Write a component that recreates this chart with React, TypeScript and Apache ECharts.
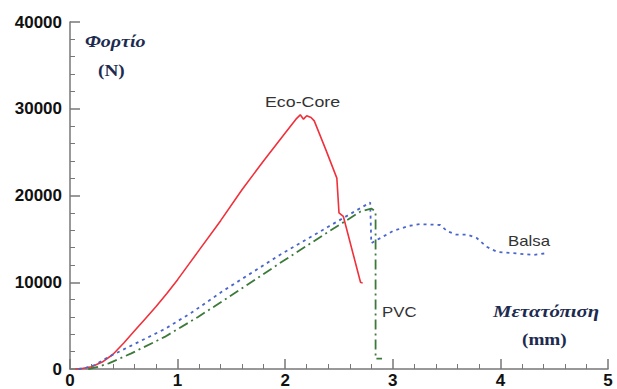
import React, { useEffect, useRef } from "react";
import * as echarts from "echarts";

const xTicks = [0, 1, 2, 3, 4, 5];
const yTicks = [0, 10000, 20000, 30000, 40000];

const ecoCore: [number, number][] = [
  [0.05, 0], [0.1, 30], [0.2, 250], [0.3, 800], [0.4, 1700], [0.5, 3000],
  [0.6, 4400], [0.7, 5800], [0.8, 7200], [0.9, 8700], [1.0, 10300],
  [1.1, 12000], [1.2, 13700], [1.4, 17100], [1.6, 20700], [1.8, 24000],
  [2.0, 27200], [2.1, 28800], [2.14, 29300], [2.17, 28800], [2.2, 29200],
  [2.24, 29000], [2.27, 28600], [2.38, 25200], [2.48, 22000], [2.5, 18000],
  [2.54, 17600], [2.7, 10000], [2.72, 9900],
];

const balsa: [number, number][] = [
  [0.08, 0], [0.15, 150], [0.23, 460], [0.36, 1400], [0.57, 2700], [0.88, 4600],
  [1.13, 6500], [1.41, 8900], [1.95, 13150], [2.4, 16400], [2.79, 19200],
  [2.8, 14500], [3.0, 15900], [3.15, 16500], [3.25, 16700], [3.44, 16600],
  [3.51, 15850], [3.59, 15500], [3.69, 15500], [3.78, 15100], [3.87, 14100],
  [3.97, 13500], [4.12, 13350], [4.31, 13150], [4.43, 13350],
];

const pvc: [number, number][] = [
  [0.17, 0], [0.26, 250], [0.36, 650], [0.57, 1800], [0.88, 3700], [1.19, 6000],
  [1.44, 8000], [1.95, 12200], [2.4, 15800], [2.7, 18150], [2.8, 18500],
  [2.84, 18150], [2.84, 1200], [2.9, 1200],
];

const navy = "#1c2b4f";
const sans = "Liberation Sans, Arial, sans-serif";
const serif = "Liberation Serif, Times New Roman, serif";

function label(text: string, x: number, y: number, font: string, fill: string, scaleX: number) {
  return {
    type: "text",
    x,
    y,
    scaleX,
    style: { text, font, fill, align: "left", verticalAlign: "middle" },
  };
}

export default function App() {
  const ref = useRef<HTMLDivElement>(null);
  useEffect(() => {
    if (!ref.current) return;
    const chart = echarts.init(ref.current, undefined, { renderer: "svg" });
    const axisCommon = {
      axisLine: { show: true, lineStyle: { color: "#777", width: 1.5 } },
      axisTick: { show: true, inside: true, length: 10, lineStyle: { color: "#777", width: 1.5 } },
      minorTick: { show: true, splitNumber: 5, length: 5, lineStyle: { color: "#777", width: 1 } },
      splitLine: { show: false },
      axisLabel: {
        color: "#111",
        fontFamily: sans,
        fontWeight: "bold" as const,
        fontSize: 17,
        formatter: (v: number) => String(v),
      },
    };
    chart.setOption({
      animation: false,
      backgroundColor: "#fff",
      grid: { left: 70, right: 9, top: 22, bottom: 20, containLabel: false },
      xAxis: {
        type: "value",
        min: xTicks[0],
        max: xTicks[xTicks.length - 1],
        interval: 1,
        ...axisCommon,
        axisLabel: { ...axisCommon.axisLabel, margin: 3 },
      },
      yAxis: {
        type: "value",
        min: yTicks[0],
        max: yTicks[yTicks.length - 1],
        interval: 10000,
        ...axisCommon,
        axisLabel: { ...axisCommon.axisLabel, margin: 8 },
      },
      series: [
        {
          name: "Eco-Core",
          type: "line",
          data: ecoCore,
          showSymbol: false,
          lineStyle: { color: "#f0303a", width: 1.6 },
        },
        {
          name: "Balsa",
          type: "line",
          data: balsa,
          showSymbol: false,
          lineStyle: { color: "#4a66cc", width: 1.8, type: [3, 4] },
        },
        {
          name: "PVC",
          type: "line",
          data: pvc,
          showSymbol: false,
          lineStyle: { color: "#3d7a3a", width: 1.8, type: [10, 4, 2, 4] },
        },
      ],
      graphic: [
        label("Eco-Core", 265, 102, `14px ${sans}`, "#333", 1.27),
        label("PVC", 382, 312, `14px ${sans}`, "#333", 1.2),
        label("Balsa", 508, 241, `14px ${sans}`, "#333", 1.2),
        label("Φορτίο", 85, 42, `italic bold 16px ${serif}`, navy, 1.25),
        label("(N)", 98, 71, `bold 16px ${serif}`, navy, 1.2),
        label("Μετατόπιση", 493, 311, `italic bold 16px ${serif}`, navy, 1.3),
        label("(mm)", 522, 340, `bold 16px ${serif}`, navy, 1.2),
      ],
    });
    return () => chart.dispose();
  }, []);
  return <div ref={ref} style={{ width: 617, height: 389, position: "absolute", left: 0, top: 0 }} />;
}
